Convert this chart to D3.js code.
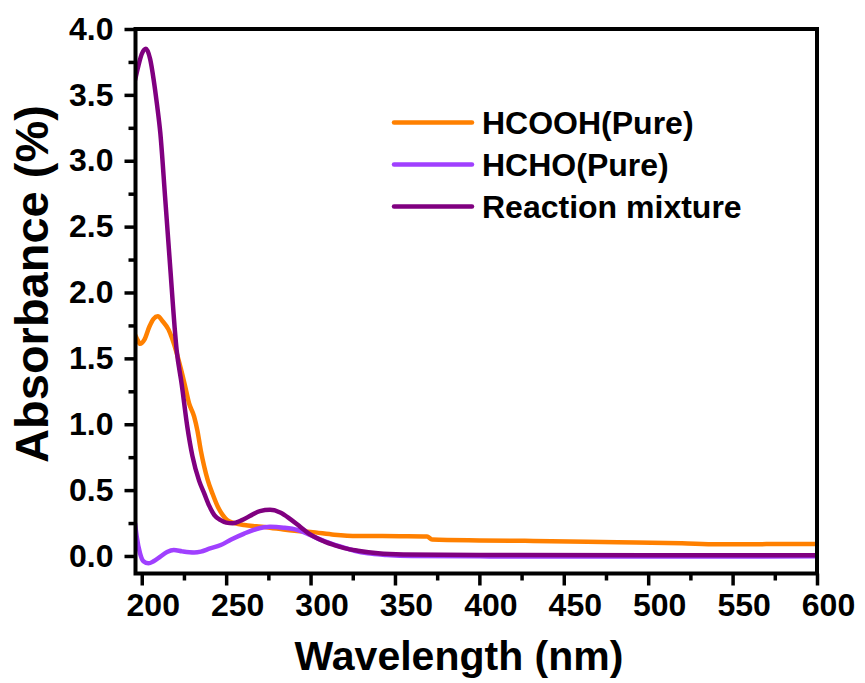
<!DOCTYPE html>
<html>
<head>
<meta charset="utf-8">
<script src="https://cdn.jsdelivr.net/npm/d3@7"></script>
<style>
  body { margin: 0; background: #fff; }
  text { font-family: "Liberation Sans", Arial, sans-serif; font-weight: bold; }
</style>
</head>
<body>
<div id="chart"></div>
<script>
// data: [wavelength (nm), absorbance]
var hcooh = [[196, 1.68], [197.5, 1.64], [199, 1.61], [201.5, 1.64], [204.5, 1.74], [207, 1.80], [209.5, 1.82],
    [212.5, 1.78], [215.8, 1.72], [218, 1.65], [220.7, 1.54], [223, 1.43], [225.5, 1.30], [228, 1.16],
    [231, 1.06], [233, 0.95], [235, 0.80], [237, 0.68], [239, 0.58], [242, 0.47], [245, 0.375], [248, 0.31],
    [250.8, 0.27], [255, 0.25], [260.7, 0.235], [268, 0.225], [276, 0.215], [284, 0.20], [292, 0.19],
    [300, 0.183], [314, 0.162], [328, 0.152], [353, 0.15], [369, 0.148], [372, 0.125], [400, 0.118],
    [432, 0.114], [482, 0.105], [520, 0.097], [541, 0.089], [570, 0.09], [600, 0.091]];

var hcho = [[196, 0.25], [197, 0.15], [199, 0.02], [201, -0.04], [204, -0.056], [207, -0.04], [211, -0.005],
    [215, 0.03], [219, 0.045], [224, 0.035], [231, 0.027], [235, 0.033], [240, 0.055], [246.8, 0.083],
    [253, 0.125], [260.7, 0.17], [268, 0.205], [276, 0.222], [284, 0.215], [292.3, 0.197], [298, 0.17],
    [304, 0.134], [311, 0.10], [318, 0.07], [326, 0.04], [334, 0.02], [345, 0.008], [360, 0.0],
    [400, -0.003], [500, -0.004], [600, -0.003]];

var mixture = [[196, 3.61], [198, 3.72], [200, 3.81], [202.5, 3.85], [205, 3.77], [207, 3.62], [209, 3.43],
    [211, 3.21], [213.8, 2.73], [216.7, 2.22], [220.7, 1.56], [223.7, 1.30], [227, 0.98], [230, 0.76],
    [234, 0.57], [237, 0.475], [240, 0.38], [243, 0.31], [247, 0.27], [250, 0.253], [254, 0.248],
    [259, 0.27], [265, 0.31], [270, 0.34], [276, 0.35], [282, 0.33], [288, 0.28], [294, 0.22],
    [299, 0.17], [304, 0.134], [309, 0.105], [314, 0.083], [320, 0.06], [328, 0.04], [340, 0.02],
    [355, 0.012], [400, 0.008], [500, 0.006], [600, 0.005]];

var seriesNames = ["HCOOH(Pure)", "HCHO(Pure)", "Reaction mixture"];
var seriesColors = ["#ff8000", "#a040ff", "#800080"];
var xTicks = [200, 250, 300, 350, 400, 450, 500, 550, 600];
var yTicks = [0.0, 0.5, 1.0, 1.5, 2.0, 2.5, 3.0, 3.5, 4.0];

var width = 865, height = 683;
// plot box (note: "top" is reserved on window, so use a margin object)
var box = {left: 135.5, right: 817, top: 29, bottom: 573.5};

var svg = d3.select("#chart").append("svg")
    .attr("width", width)
    .attr("height", height);

var x = d3.scaleLinear().domain([196.3, 600]).range([box.left, box.right]);
var y = d3.scaleLinear().domain([-0.133, 4]).range([box.bottom, box.top]);

// minor ticks halfway between the major ones
var xMinor = xTicks.slice(0, -1).map(function(d) { return d + 25; });
var yMinor = yTicks.slice(0, -1).map(function(d) { return d + 0.25; });

svg.append("g")
    .attr("transform", "translate(0," + box.bottom + ")")
    .call(d3.axisBottom(x).tickValues(xMinor).tickSize(7).tickFormat(""))
    .call(function(g) { g.select(".domain").remove(); g.selectAll("line").attr("stroke-width", 3.5); });

svg.append("g")
    .attr("transform", "translate(" + box.left + ",0)")
    .call(d3.axisLeft(y).tickValues(yMinor).tickSize(7).tickFormat(""))
    .call(function(g) { g.select(".domain").remove(); g.selectAll("line").attr("stroke-width", 3.5); });

var xAxis = svg.append("g")
    .attr("transform", "translate(0," + box.bottom + ")")
    .call(d3.axisBottom(x).tickValues(xTicks).tickSize(12).tickFormat(d3.format("d")));
xAxis.select(".domain").remove();
xAxis.selectAll("line").attr("stroke-width", 3.5);
xAxis.selectAll("text")
    .attr("font-size", 32)
    .attr("dx", 11)
    .attr("y", 20)
    .attr("fill", "#000");

var yAxis = svg.append("g")
    .attr("transform", "translate(" + box.left + ",0)")
    .call(d3.axisLeft(y).tickValues(yTicks).tickSize(11).tickFormat(d3.format(".1f")));
yAxis.select(".domain").remove();
yAxis.selectAll("line").attr("stroke-width", 3.5);
yAxis.selectAll("text")
    .attr("font-size", 32)
    .attr("x", -22)
    .attr("fill", "#000");

// curves
var line = d3.line()
    .x(function(d) { return x(d[0]); })
    .y(function(d) { return y(d[1]); })
    .curve(d3.curveMonotoneX);

svg.append("clipPath").attr("id", "plotClip")
    .append("rect")
    .attr("x", box.left).attr("y", box.top)
    .attr("width", box.right - box.left).attr("height", box.bottom - box.top);

[hcooh, hcho, mixture].forEach(function(s, i) {
    svg.append("path")
        .datum(s)
        .attr("clip-path", "url(#plotClip)")
        .attr("fill", "none")
        .attr("stroke", seriesColors[i])
        .attr("stroke-width", 4.5)
        .attr("stroke-linejoin", "round")
        .attr("d", line);
});

// frame
svg.append("rect")
    .attr("x", box.left).attr("y", box.top)
    .attr("width", box.right - box.left).attr("height", box.bottom - box.top)
    .attr("fill", "none")
    .attr("stroke", "#000")
    .attr("stroke-width", 4);

// legend
var legend = svg.append("g");
seriesNames.forEach(function(name, i) {
    var ly = 122.5 + i * 42;
    legend.append("line")
        .attr("x1", 394).attr("x2", 472)
        .attr("y1", ly).attr("y2", ly)
        .attr("stroke", seriesColors[i])
        .attr("stroke-width", 4.5)
        .attr("stroke-linecap", "round");
    legend.append("text")
        .attr("x", 482).attr("y", ly)
        .attr("dy", "0.36em")
        .attr("font-size", 32)
        .text(name);
});

// axis titles
svg.append("text")
    .attr("x", 459).attr("y", 670)
    .attr("text-anchor", "middle")
    .attr("font-size", 41)
    .text("Wavelength (nm)");

svg.append("text")
    .attr("transform", "translate(48,284) rotate(-90)")
    .attr("text-anchor", "middle")
    .attr("font-size", 47)
    .text("Absorbance (%)");
</script>
</body>
</html>
